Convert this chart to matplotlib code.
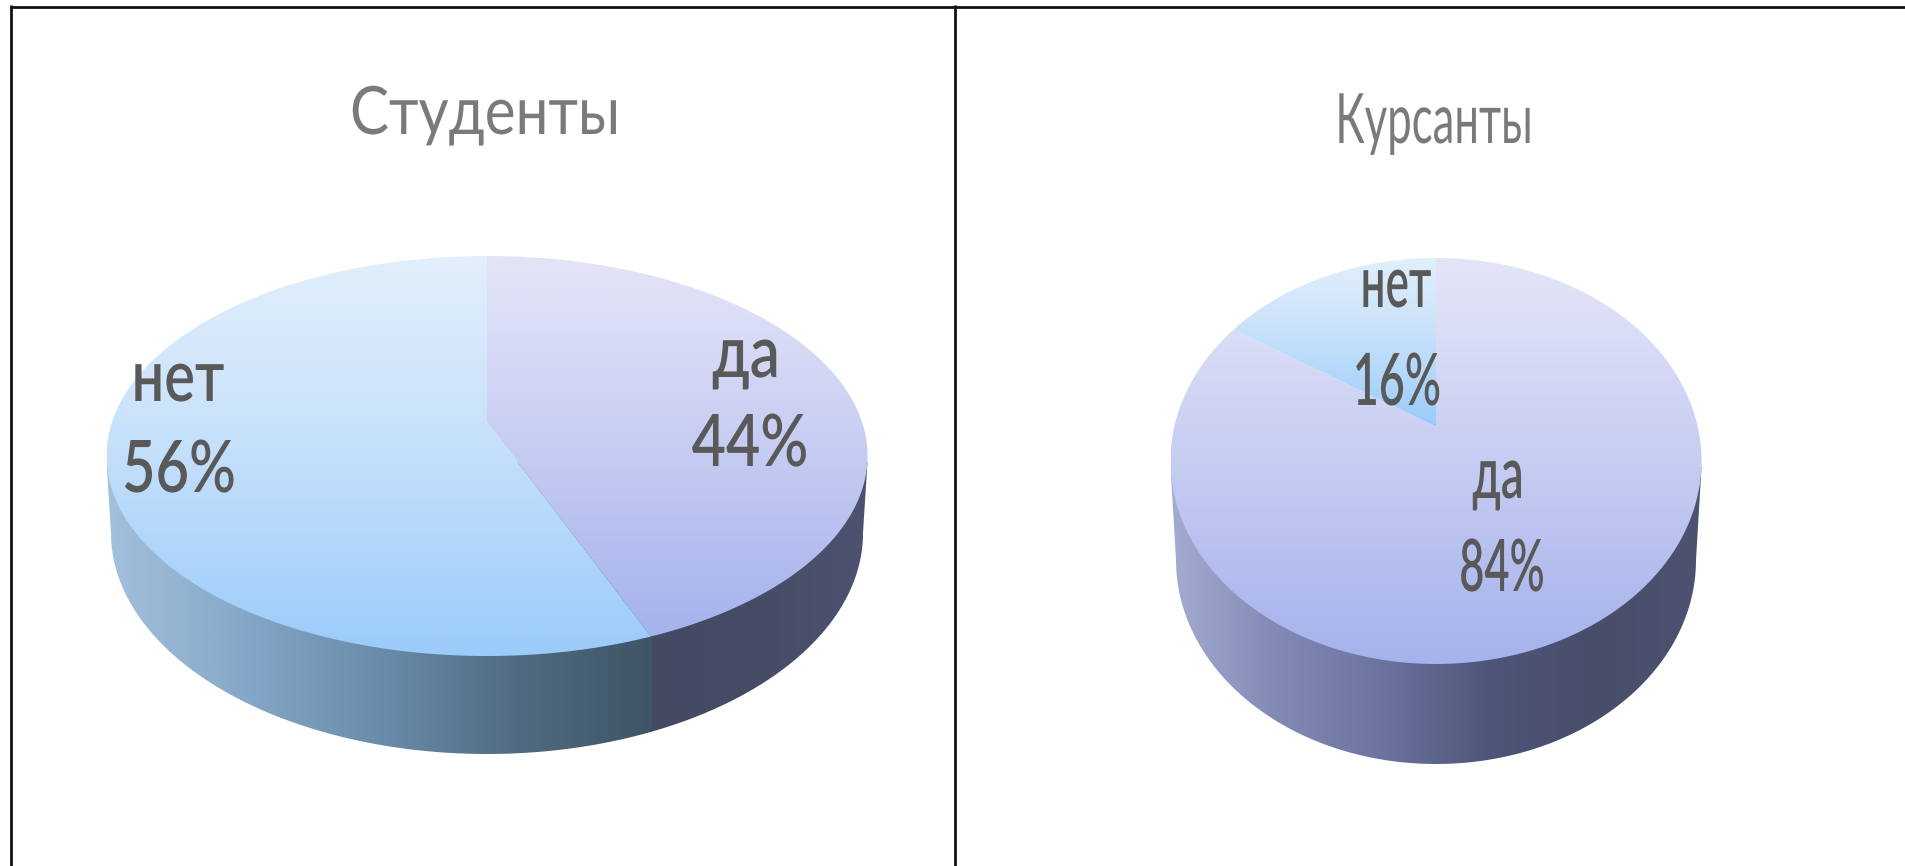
import numpy as np
import matplotlib
matplotlib.use('Agg')
from matplotlib import pyplot as plt
from matplotlib.colors import LinearSegmentedColormap
from matplotlib.patches import Polygon
from matplotlib.patheffects import AbstractPathEffect
from matplotlib.transforms import Affine2D

categories = ['да', 'нет']
studenty = [44, 56]
kursanty = [84, 16]

W, H = 1906, 866
K = 0.17  # перспектива: центр круга смещён вверх

da_top = ['#e3e5f6', '#d9dcf6', '#cdd2f4', '#c0c8f1', '#b2bcee', '#a5b3ec']
net_top = ['#e2effc', '#cfe5fb', '#b6d9fa', '#9acbfa']
net_wall = ['#a3c0dc', '#86a8c8', '#6a8cab', '#516b82', '#3f5565']
da_wall_short = ['#454a63', '#474c66', '#4d5270']
da_wall_long = ['#a5acd2', '#8189b4', '#6b739f', '#4f5578', '#484d6a', '#4c5270']


class Squeeze(AbstractPathEffect):
    # текст в оригинале растянут/сжат по ширине
    def __init__(self, sx, x0):
        super().__init__()
        self.tr = Affine2D().translate(-x0, 0).scale(sx, 1).translate(x0, 0)

    def draw_path(self, renderer, gc, tpath, affine, rgbFace=None):
        renderer.draw_path(gc, tpath, affine + self.tr, rgbFace)


def gradient(ax, clip, extent, colors, vertical=True):
    cmap = LinearSegmentedColormap.from_list('g', colors)
    g = np.linspace(0, 1, 256)
    g = g.reshape(-1, 1) if vertical else g.reshape(1, -1)
    im = ax.imshow(g, cmap=cmap, extent=extent, aspect='auto', origin='upper',
                   vmin=0, vmax=1, interpolation='bilinear')
    ax.add_patch(clip)
    clip.set_visible(False)
    im.set_clip_path(clip)


def project(t, cx, cy, rx, ry):
    x = np.sin(t)
    y = np.cos(t)
    d = 1 + K * y
    return cx + rx * x * np.sqrt(1 - K ** 2) / d, cy - ry * (y + K) / d


def pie(ax, values, cx, cy, rx, ry, cx2, cy2, rx2, ry2, wall_da):
    # стенка
    a = np.linspace(np.pi, 0, 200)
    tl = np.array([[cx - rx, cy + 6]])
    tr = np.array([[cx + rx, cy + 6]])
    low = np.column_stack([cx2 + rx2 * np.cos(a), cy2 + ry2 * np.sin(a)])
    wall = np.vstack([tl, low, tr])

    start = 0
    frac = np.array(values) / sum(values) * 2 * np.pi
    tops = [da_top, net_top]
    walls = [wall_da, net_wall]
    for i in range(len(values)):
        t = np.linspace(start, start + frac[i], 300)
        x, y = project(t, cx, cy, rx, ry)
        front = y > cy + 5
        if front.any():
            ext = (x[front].min(), x[front].max(), cy2 + ry2 + 3, cy - 5)
            gradient(ax, Polygon(wall, transform=ax.transData), ext, walls[i], vertical=False)
        start += frac[i]

    start = 0
    for i in range(len(values)):
        t = np.linspace(start, start + frac[i], 300)
        x, y = project(t, cx, cy, rx, ry)
        pts = np.vstack([[[cx, cy - K * ry]], np.column_stack([x, y])])
        ext = (pts[:, 0].min(), pts[:, 0].max(), pts[:, 1].max(), pts[:, 1].min())
        gradient(ax, Polygon(pts, transform=ax.transData), ext, tops[i])
        start += frac[i]


def label(ax, x, y, s, size, sx, color='#595959', weight='semibold'):
    ax.text(x, y, s, fontsize=size, color=color, ha='center', va='baseline',
            family='Lato', weight=weight, path_effects=[Squeeze(sx, x)])


fig = plt.figure(figsize=(W / 100, H / 100), dpi=100, facecolor='white')
ax = fig.add_axes([0, 0, 1, 1])

pie(ax, studenty, 487, 456, 380.5, 200, 487, 533, 376, 221, da_wall_short)
pie(ax, kursanty, 1436, 461, 265.5, 203, 1436, 560, 260, 204, da_wall_long)

ax.set_xlim(0, W)
ax.set_ylim(H, 0)
ax.axis('off')

# рамка таблицы
ax.plot([10, W], [6.5, 6.5], color='#111111', lw=2, solid_capstyle='butt')
ax.plot([11, 11], [5, H], color='#111111', lw=2, solid_capstyle='butt')
ax.plot([955.5, 955.5], [5, H], color='#111111', lw=2, solid_capstyle='butt')

label(ax, 485, 134, 'Студенты', 48, 0.876, '#7a7a7a', 'normal')
label(ax, 1434, 143, 'Курсанты', 50, 0.63, '#7a7a7a', 'normal')

label(ax, 178, 401, categories[1], 52, 0.8)
label(ax, 179, 492, '%d%%' % studenty[1], 52, 0.8)
label(ax, 746, 377, categories[0], 52, 0.83)
label(ax, 750, 466, '%d%%' % studenty[0], 52, 0.82)

label(ax, 1396, 307, categories[1], 52, 0.61)
label(ax, 1397, 405, '%d%%' % kursanty[1], 52, 0.62)
label(ax, 1498, 498, categories[0], 52, 0.63)
label(ax, 1502, 591, '%d%%' % kursanty[0], 52, 0.6)

fig.savefig('out.png', dpi=100)
